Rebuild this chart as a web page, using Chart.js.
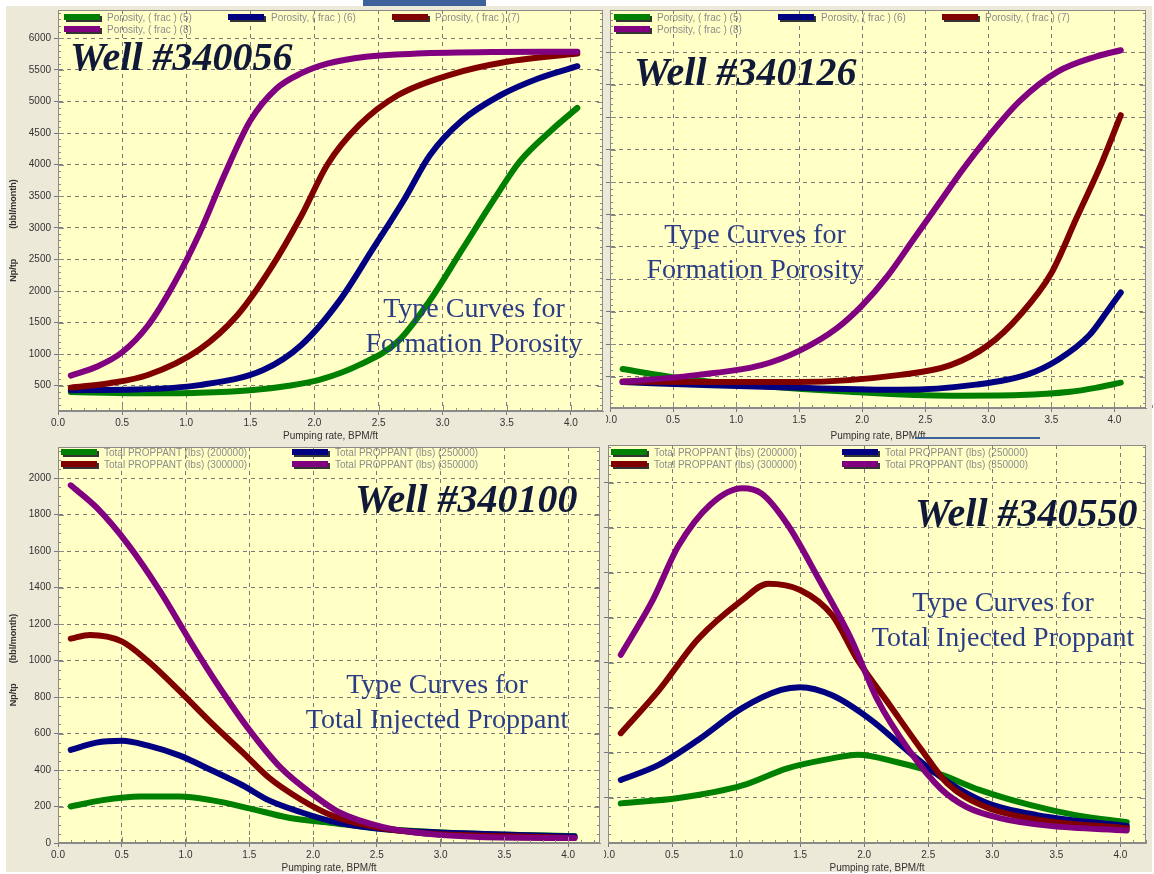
<!DOCTYPE html>
<html>
<head>
<meta charset="utf-8">
<script src="https://cdn.jsdelivr.net/npm/chart.js@4.4.0/dist/chart.umd.min.js"></script>
<style>
body { margin:0; background:#fff; width:1154px; height:874px; overflow:hidden; position:relative; font-family:"Liberation Sans", Arial, sans-serif; }
#frame { position:absolute; left:6px; top:6px; width:1146px; height:866px; background:#ECE9D8; }
canvas { position:absolute; }
.bar { position:absolute; background:#3d6198; }
.legend { position:absolute; display:flex; flex-wrap:wrap; font-size:10px; color:#8c8c8c; }
.legend .item { display:flex; align-items:center; height:12px; white-space:nowrap; }
.legend .sw { display:inline-block; width:36px; height:6px; margin-right:7px; box-shadow:2px 2px 0 #333; }
.well { position:absolute; font:italic bold 40px "Liberation Serif", serif; line-height:40px; color:#101a38; white-space:nowrap; }
.note { position:absolute; width:320px; font:28px "Liberation Serif", serif; line-height:35px; color:#2b3d85; text-align:center; white-space:nowrap; }
</style>
</head>
<body>
<div id="frame"></div>
<div class="bar" style="left:363px;top:0;width:123px;height:6px"></div>
<canvas id="tr" width="548" height="442" style="left:606px;top:0"></canvas>
<canvas id="tl" width="607" height="442" style="left:0;top:0"></canvas>
<canvas id="br" width="550" height="436" style="left:604px;top:438px"></canvas>
<canvas id="bl" width="604" height="436" style="left:0;top:438px"></canvas>
<div class="bar" style="left:915px;top:437px;width:125px;height:2px"></div>

<div class="legend" id="legTL" style="left:64px;top:11px;width:500px"></div>
<div class="legend" id="legTR" style="left:614px;top:11px;width:500px"></div>
<div class="legend" id="legBL" style="left:61px;top:446px;width:470px"></div>
<div class="legend" id="legBR" style="left:611px;top:446px;width:470px"></div>

<div class="well" style="left:70px;top:37px">Well #340056</div>
<div class="well" style="left:634px;top:52px">Well #340126</div>
<div class="well" style="left:355px;top:479px">Well #340100</div>
<div class="well" style="left:915px;top:493px">Well #340550</div>

<div class="note" style="left:314px;top:290px">Type Curves for<br>Formation Porosity</div>
<div class="note" style="left:595px;top:216px">Type Curves for<br>Formation Porosity</div>
<div class="note" style="left:277px;top:666px">Type Curves for<br>Total Injected Proppant</div>
<div class="note" style="left:843px;top:584px">Type Curves for<br>Total Injected Proppant</div>

<script>
const porosityNames = ['Porosity, ( frac ) (5)', 'Porosity, ( frac ) (6)', 'Porosity, ( frac ) (7)', 'Porosity, ( frac ) (8)'];
const proppantNames = ['Total PROPPANT (lbs) (200000)', 'Total PROPPANT (lbs) (250000)', 'Total PROPPANT (lbs) (300000)', 'Total PROPPANT (lbs) (350000)'];
const seriesColors = ['#008000', '#000080', '#800000', '#800080'];

const xTicks = [0, 0.5, 1, 1.5, 2, 2.5, 3, 3.5, 4];
const tlTicks = [500, 1000, 1500, 2000, 2500, 3000, 3500, 4000, 4500, 5000, 5500, 6000];
const trTicks = [500, 1000, 1500, 2000, 2500, 3000, 3500, 4000, 4500, 5000, 5500];
const blTicks = [0, 200, 400, 600, 800, 1000, 1200, 1400, 1600, 1800, 2000];
const brTicks = [250, 500, 750, 1000, 1250, 1500, 1750, 2000];

// Well #340056 - porosity
const tlGreenX = [0.1, 0.6, 1.1, 1.5, 1.8, 2.05, 2.35, 2.65, 2.9, 3.15, 3.4, 3.6, 3.85, 4.05];
const tlGreenY = [400, 380, 390, 430, 500, 600, 830, 1200, 1850, 2650, 3450, 4050, 4550, 4900];
const tlBlueX = [0.1, 0.6, 1.1, 1.6, 1.9, 2.2, 2.45, 2.7, 2.9, 3.15, 3.45, 3.75, 4.05];
const tlBlueY = [430, 440, 510, 750, 1150, 1860, 2650, 3450, 4150, 4700, 5100, 5370, 5560];
const tlRedX = [0.1, 0.4, 0.7, 1.1, 1.4, 1.65, 1.9, 2.1, 2.35, 2.65, 3.05, 3.5, 4.05];
const tlRedY = [470, 540, 670, 1070, 1620, 2330, 3200, 4000, 4630, 5100, 5420, 5630, 5760];
const tlPurpleX = [0.1, 0.3, 0.5, 0.7, 0.9, 1.1, 1.3, 1.5, 1.7, 1.9, 2.1, 2.4, 2.8, 3.4, 4.05];
const tlPurpleY = [660, 800, 1030, 1450, 2100, 2900, 3850, 4700, 5200, 5450, 5600, 5710, 5760, 5785, 5790];

// Well #340126 - porosity
const trGreenX = [0.1, 0.55, 1.1, 1.9, 2.7, 3.25, 3.65, 3.85, 4.05];
const trGreenY = [620, 480, 375, 270, 210, 220, 270, 330, 410];
const trBlueX = [0.1, 0.8, 1.5, 2.3, 2.9, 3.3, 3.55, 3.8, 3.95, 4.05];
const trBlueY = [420, 370, 330, 300, 380, 530, 760, 1140, 1530, 1800];
const trRedX = [0.1, 0.8, 1.5, 2.3, 2.7, 3.0, 3.25, 3.5, 3.7, 3.9, 4.05];
const trRedY = [430, 420, 420, 530, 680, 990, 1450, 2100, 2950, 3800, 4530];
const trPurpleX = [0.1, 0.7, 1.2, 1.5, 1.8, 2.0, 2.2, 2.4, 2.6, 2.8, 3.0, 3.25, 3.55, 3.85, 4.05];
const trPurpleY = [420, 530, 680, 900, 1250, 1600, 2050, 2600, 3150, 3700, 4200, 4750, 5200, 5430, 5530];

// Well #340100 - proppant
const blGreenX = [0.1, 0.35, 0.65, 0.95, 1.2, 1.5, 1.8, 2.15, 2.55, 3.1, 4.05];
const blGreenY = [200, 235, 255, 255, 235, 190, 140, 110, 78, 55, 38];
const blBlueX = [0.1, 0.3, 0.5, 0.7, 0.95, 1.2, 1.45, 1.65, 1.9, 2.2, 2.6, 3.1, 4.05];
const blBlueY = [510, 550, 560, 535, 480, 400, 315, 235, 170, 110, 72, 55, 35];
const blRedX = [0.1, 0.25, 0.5, 0.7, 0.95, 1.2, 1.45, 1.65, 1.9, 2.15, 2.45, 2.85, 3.45, 4.05];
const blRedY = [1120, 1140, 1105, 1000, 835, 660, 495, 360, 240, 150, 93, 55, 38, 28];
const blPurpleX = [0.1, 0.3, 0.55, 0.8, 1.05, 1.25, 1.5, 1.75, 2.0, 2.2, 2.55, 2.9, 3.3, 4.05];
const blPurpleY = [1960, 1840, 1635, 1380, 1090, 870, 620, 410, 265, 170, 87, 50, 33, 27];

// Well #340550 - proppant
const brGreenX = [0.1, 0.55, 1.05, 1.4, 1.75, 1.95, 2.25, 2.6, 2.9, 3.3, 3.65, 4.05];
const brGreenY = [220, 250, 320, 415, 470, 490, 450, 380, 295, 210, 155, 115];
const brBlueX = [0.1, 0.4, 0.7, 1.05, 1.35, 1.5, 1.75, 2.05, 2.35, 2.65, 2.95, 3.35, 4.05];
const brBlueY = [350, 435, 570, 750, 850, 865, 820, 685, 505, 340, 225, 155, 95];
const brRedX = [0.1, 0.4, 0.7, 1.05, 1.25, 1.5, 1.75, 1.95, 2.2, 2.45, 2.65, 2.95, 3.35, 4.05];
const brRedY = [610, 850, 1130, 1350, 1440, 1405, 1265, 1015, 765, 515, 330, 200, 130, 82];
const brPurpleX = [0.1, 0.35, 0.55, 0.8, 1.05, 1.2, 1.4, 1.65, 1.9, 2.1, 2.35, 2.6, 2.8, 3.05, 3.45, 4.05];
const brPurpleY = [1045, 1350, 1650, 1880, 1970, 1940, 1770, 1460, 1130, 800, 515, 300, 200, 140, 95, 70];

// yellow plot box, outline and the small inside ticks
const plotBox = {
    id: 'plotBox',
    beforeDraw(chart) {
        const a = chart.chartArea, ctx = chart.ctx;
        ctx.save();
        ctx.fillStyle = '#FFFFC6';
        ctx.fillRect(a.left, a.top, a.right - a.left, a.bottom - a.top);
        ctx.restore();
    },
    afterDraw(chart, args, opts) {
        const a = chart.chartArea, ctx = chart.ctx;
        const x = chart.scales.x, y = chart.scales.y;
        ctx.save();
        ctx.strokeStyle = '#8a8a8a';
        ctx.lineWidth = 1;
        ctx.strokeRect(a.left + 0.5, a.top + 0.5, a.right - a.left - 1, a.bottom - a.top - 1);
        ctx.beginPath();
        const nx = Math.round(x.max * 10);
        for (let i = 0; i <= nx; i++) {
            const px = Math.round(x.getPixelForValue(i / 10)) + 0.5;
            const len = i % 5 === 0 ? 6 : 3;
            ctx.moveTo(px, a.bottom);
            ctx.lineTo(px, a.bottom - len);
        }
        const step = opts.yMinor;
        for (let v = Math.ceil(y.min / step) * step; v <= y.max; v += step) {
            const py = Math.round(y.getPixelForValue(v)) + 0.5;
            const len = opts.major.includes(v) ? 6 : 3;
            ctx.moveTo(a.left, py); ctx.lineTo(a.left + len, py);
            ctx.moveTo(a.right, py); ctx.lineTo(a.right - len, py);
        }
        ctx.stroke();
        ctx.restore();
    }
};

function fillLegend(id, names, itemWidth) {
    const el = document.getElementById(id);
    names.forEach((n, i) => {
        el.insertAdjacentHTML('beforeend', `<div class="item" style="width:${itemWidth}px"><span class="sw" style="background:${seriesColors[i]}"></span>${n}</div>`);
    });
}

function makeChart(id, xs, ys, p) {
    const datasets = xs.map((xa, i) => ({
        label: p.names[i],
        data: xa.map((v, j) => ({x: v, y: ys[i][j]})),
        borderColor: seriesColors[i],
        borderWidth: 6,
        borderCapStyle: 'round',
        borderJoinStyle: 'round',
        pointRadius: 0,
        cubicInterpolationMode: 'monotone',
        fill: false,
        order: 3 - i
    }));
    return new Chart(document.getElementById(id), {
        type: 'line',
        data: {datasets: datasets},
        plugins: [plotBox],
        options: {
            responsive: false,
            animation: false,
            layout: {padding: p.padding},
            plugins: {
                legend: {display: false},
                tooltip: {enabled: false},
                plotBox: {yMinor: p.yMinor, major: p.yTicks}
            },
            scales: {
                x: {
                    type: 'linear',
                    min: 0,
                    max: p.xMax,
                    afterBuildTicks: axis => { axis.ticks = xTicks.map(v => ({value: v})); },
                    afterFit: scale => {
                        scale.height = p.xHeight;
                        scale.paddingLeft = 0;
                        scale.paddingRight = 0;
                    },
                    ticks: {
                        color: '#333',
                        font: {size: 10, family: 'Liberation Sans'},
                        padding: 2,
                        maxRotation: 0,
                        callback: v => v.toFixed(1)
                    },
                    grid: {color: '#7a7a7a', tickLength: 4, tickColor: '#777'},
                    border: {color: '#8a8a8a', dash: [4, 4]},
                    title: {
                        display: true,
                        text: 'Pumping rate, BPM/ft',
                        color: '#333',
                        font: {size: 10, family: 'Liberation Sans'},
                        padding: {top: 0, bottom: 0}
                    }
                },
                y: {
                    type: 'linear',
                    min: p.yMin,
                    max: p.yMax,
                    afterBuildTicks: axis => { axis.ticks = p.yTicks.map(v => ({value: v})); },
                    afterFit: scale => { scale.width = p.yWidth; },
                    ticks: {
                        display: p.showY,
                        color: '#333',
                        font: {size: 10, family: 'Liberation Sans'},
                        padding: 3,
                        callback: v => String(v)
                    },
                    grid: {color: '#7a7a7a', tickLength: 4, tickColor: '#777'},
                    border: {color: '#8a8a8a', dash: [4, 4]},
                    title: {
                        display: p.showY,
                        text: p.yTitle,
                        color: '#333',
                        font: {size: 9, family: 'Liberation Sans', weight: 'bold'},
                        padding: {top: 8, bottom: 0}
                    }
                }
            }
        }
    });
}

fillLegend('legTL', porosityNames, 164);
fillLegend('legTR', porosityNames, 164);
fillLegend('legBL', proppantNames, 231);
fillLegend('legBR', proppantNames, 231);

makeChart('tl', [tlGreenX, tlBlueX, tlRedX, tlPurpleX], [tlGreenY, tlBlueY, tlRedY, tlPurpleY], {
    names: porosityNames, yMin: 100, yMax: 6450, yTicks: tlTicks, yMinor: 100, xMax: 4.25,
    padding: {left: 0, top: 10, right: 4, bottom: 0}, yWidth: 58, xHeight: 31, showY: true,
    yTitle: 'Np/tp            (bbl/month)                '
});
makeChart('tr', [trGreenX, trBlueX, trRedX, trPurpleX], [trGreenY, trBlueY, trRedY, trPurpleY], {
    names: porosityNames, yMin: 20, yMax: 6150, yTicks: trTicks, yMinor: 100, xMax: 4.25,
    padding: {left: 0, top: 10, right: 8, bottom: 0}, yWidth: 4, xHeight: 34, showY: false, yTitle: ''
});
makeChart('bl', [blGreenX, blBlueX, blRedX, blPurpleX], [blGreenY, blBlueY, blRedY, blPurpleY], {
    names: proppantNames, yMin: 0, yMax: 2170, yTicks: blTicks, yMinor: 50, xMax: 4.25,
    padding: {left: 0, top: 7, right: 4, bottom: 0}, yWidth: 58, xHeight: 31, showY: true,
    yTitle: 'Np/tp        (bbl/month)            '
});
makeChart('br', [brGreenX, brBlueX, brRedX, brPurpleX], [brGreenY, brBlueY, brRedY, brPurpleY], {
    names: proppantNames, yMin: 0, yMax: 2210, yTicks: brTicks, yMinor: 50, xMax: 4.2,
    padding: {left: 0, top: 7, right: 8, bottom: 0}, yWidth: 4, xHeight: 31, showY: false, yTitle: ''
});
</script>
</body>
</html>
